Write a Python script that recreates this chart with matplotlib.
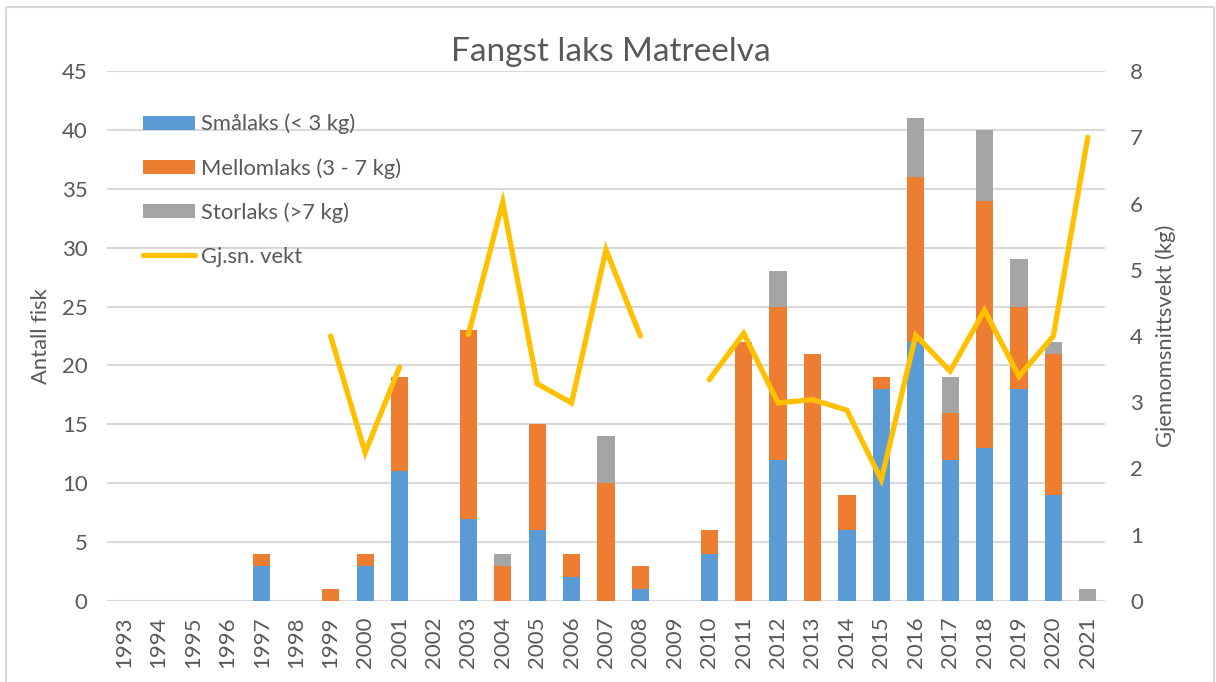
import numpy as np
import matplotlib.pyplot as plt
from matplotlib.patches import Rectangle

years = [str(y) for y in range(1993, 2022)]
smalaks = [0, 0, 0, 0, 3, 0, 0, 3, 11, 0, 7, 0, 6, 2, 0, 1, 0, 4, 0, 12, 0, 6, 18, 22, 12, 13, 18, 9, 0]
mellomlaks = [0, 0, 0, 0, 1, 0, 1, 1, 8, 0, 16, 3, 9, 2, 10, 2, 0, 2, 22, 13, 21, 3, 1, 14, 4, 21, 7, 12, 0]
storlaks = [0, 0, 0, 0, 0, 0, 0, 0, 0, 0, 0, 1, 0, 0, 4, 0, 0, 0, 0, 3, 0, 0, 0, 5, 3, 6, 4, 1, 1]
snittvekt = [np.nan, np.nan, np.nan, np.nan, np.nan, np.nan, 4.0, 2.24, 3.53, np.nan,
             4.02, 6.02, 3.28, 2.99, 5.3, 4.0, np.nan, 3.34, 4.04, 2.99,
             3.04, 2.88, 1.83, 4.01, 3.47, 4.39, 3.39, 4.0, 7.0]

blue = '#5B9BD5'
orange = '#ED7D31'
grey = '#A5A5A5'
yellow = '#FFC000'
text_col = '#595959'
grid_col = '#D9D9D9'

plt.rcParams['font.family'] = ['Lato', 'DejaVu Sans']

fig = plt.figure(figsize=(12.16, 6.82), dpi=100)
ax = fig.add_axes([107 / 1216, 1 - 601 / 682, 998 / 1216, 530 / 682])

x = np.arange(len(years))
small = np.array(smalaks)
mid = np.array(mellomlaks)
big = np.array(storlaks)

b1 = ax.bar(x, small, 0.5, color=blue, label='Smålaks (< 3 kg)', zorder=2)
b2 = ax.bar(x, mid, 0.5, bottom=small, color=orange, label='Mellomlaks (3 - 7 kg)', zorder=2)
b3 = ax.bar(x, big, 0.5, bottom=small + mid, color=grey, label='Storlaks (>7 kg)', zorder=2)

ax.set_xlim(-0.5, len(years) - 0.5)
ax.set_ylim(0, 45)
ax.set_yticks(range(0, 46, 5))
ax.set_xticks(x)
ax.set_xticklabels(years, rotation=90)
ax.yaxis.grid(True, color=grid_col, linewidth=1.5, zorder=0)
ax.set_axisbelow(True)
for s in ax.spines.values():
    s.set_visible(False)
ax.tick_params(axis='both', length=0, labelsize=16, colors=text_col)
ax.tick_params(axis='y', pad=14)
ax.tick_params(axis='x', pad=11)
ax.set_ylabel('Antall fisk', fontsize=15.8, color=text_col, labelpad=8)

ax2 = ax.twinx()
l1, = ax2.plot(x, snittvekt, color=yellow, linewidth=3.8, solid_capstyle='round',
               solid_joinstyle='miter', label='Gj.sn. vekt', zorder=3)
ax2.set_ylim(0, 8)
ax2.set_yticks(range(0, 9))
for s in ax2.spines.values():
    s.set_visible(False)
ax2.tick_params(axis='y', length=0, labelsize=16, colors=text_col, pad=18)
ax2.set_ylabel('Gjennomsnittsvekt (kg)', fontsize=15.8, color=text_col, labelpad=9)

leg = ax2.legend(handles=[b1, b2, b3, l1], loc='upper left',
                 bbox_to_anchor=(134 / 1216, 1 - 105 / 682), bbox_transform=fig.transFigure,
                 frameon=False, fontsize=15.8, labelspacing=1.08, handlelength=2.4,
                 handleheight=0.6, handletextpad=0.25, borderaxespad=0)
for t in leg.get_texts():
    t.set_color(text_col)

fig.text(611 / 1216, 1 - 52 / 682, 'Fangst laks Matreelva', ha='center', va='center',
         fontsize=24, color=text_col)

fig.patches.append(Rectangle((6 / 1216, -0.05), 1208 / 1216, 1.05 - 7 / 682,
                             transform=fig.transFigure, fill=False,
                             edgecolor=grid_col, linewidth=1.5))

fig.savefig('out.png', dpi=100)
